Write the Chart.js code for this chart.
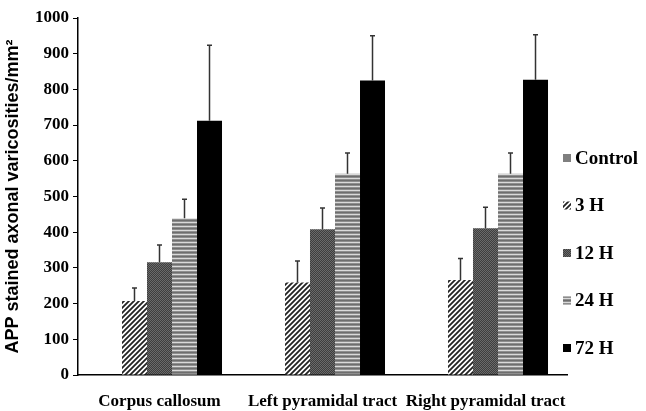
<!DOCTYPE html>
<html>
<head>
<meta charset="utf-8">
<script src="https://cdn.jsdelivr.net/npm/chart.js@4.4.1/dist/chart.umd.min.js"></script>
<style>
  html, body { margin: 0; padding: 0; background: #fff; }
  #wrap { width: 646px; height: 411px; }
</style>
</head>
<body>
<div id="wrap"><canvas id="myChart" width="646" height="411"></canvas></div>
<script>
// data
const categories = ['Corpus callosum', 'Left pyramidal tract', 'Right pyramidal tract']
const seriesNames = ['Control', '3 H', '12 H', '24 H', '72 H']
const control = [0, 0, 0]
const h3 = [207, 259, 266]
const h12 = [316, 408, 411]
const h24 = [439, 564, 564]
const h72 = [712, 825, 827]
const controlErr = [0, 0, 0]
const h3Err = [37, 60, 60]
const h12Err = [48, 60, 59]
const h24Err = [53, 58, 58]
const h72Err = [212, 125, 126]
const yTicks = [0, 100, 200, 300, 400, 500, 600, 700, 800, 900, 1000]

const canvas = document.getElementById('myChart')
const ctx = canvas.getContext('2d')

const serif = '"Liberation Serif", "Times New Roman", serif'

function makePattern(w, h, draw) {
  const c = document.createElement('canvas')
  c.width = w
  c.height = h
  draw(c.getContext('2d'))
  return ctx.createPattern(c, 'repeat')
}

// fills approximating the print patterns
const diag = makePattern(5, 5, g => {
  g.fillStyle = '#fff'
  g.fillRect(0, 0, 5, 5)
  g.strokeStyle = '#222'
  g.lineWidth = 1.8
  g.beginPath()
  g.moveTo(-1, 6); g.lineTo(6, -1)
  g.moveTo(-1, 1); g.lineTo(1, -1)
  g.moveTo(4, 6); g.lineTo(6, 4)
  g.stroke()
})
const dots = makePattern(2, 2, g => {
  g.fillStyle = '#3e3e3e'
  g.fillRect(0, 0, 2, 2)
  g.fillStyle = '#6a6a6a'
  g.fillRect(0, 0, 1, 1)
  g.fillRect(1, 1, 1, 1)
})
const stripes = makePattern(1, 4, g => {
  const rows = ['#6e6e6e', '#8e8e8e', '#dadada', '#8e8e8e']
  rows.forEach((c, i) => { g.fillStyle = c; g.fillRect(0, i, 1, 1) })
})

const values = [control, h3, h12, h24, h72]
const errors = [controlErr, h3Err, h12Err, h24Err, h72Err]
const fills = ['#7f7f7f', diag, dots, stripes, '#000']

const errorBars = {
  id: 'errorBars',
  afterDatasetsDraw(chart) {
    const y = chart.scales.y
    const c = chart.ctx
    c.save()
    c.strokeStyle = '#333'
    c.lineWidth = 1.5
    chart.data.datasets.forEach((ds, i) => {
      const meta = chart.getDatasetMeta(i)
      meta.data.forEach((bar, j) => {
        const e = errors[i][j]
        if (!e) return
        const top = y.getPixelForValue(ds.data[j] + e)
        c.beginPath()
        c.moveTo(bar.x, bar.y)
        c.lineTo(bar.x, top)
        c.moveTo(bar.x - 2.5, top)
        c.lineTo(bar.x + 2.5, top)
        c.stroke()
      })
    })
    c.restore()
  }
}

const sideLegend = {
  id: 'sideLegend',
  afterDraw(chart) {
    const c = chart.ctx
    c.save()
    c.font = 'bold 19px ' + serif
    c.textBaseline = 'middle'
    chart.data.datasets.forEach((ds, i) => {
      const yy = 158 + i * 47.5
      c.fillStyle = ds.backgroundColor
      c.fillRect(563, yy - 4, 8, 8)
      c.fillStyle = '#000'
      c.fillText(ds.label, 575, yy + 1)
    })
    c.restore()
  }
}

const myChart = new Chart(canvas, {
  type: 'bar',
  data: {
    labels: categories,
    datasets: seriesNames.map((name, i) => ({
      label: name,
      data: values[i],
      backgroundColor: fills[i],
      borderWidth: 0,
      categoryPercentage: 0.767,
      barPercentage: 1
    }))
  },
  options: {
    responsive: false,
    animation: false,
    devicePixelRatio: 1,
    layout: { padding: { top: 18, right: 79, left: 0, bottom: 0 } },
    plugins: {
      legend: { display: false },
      tooltip: { enabled: false }
    },
    scales: {
      x: {
        grid: { display: false },
        border: { color: '#000', width: 1.5 },
        ticks: {
          color: '#000',
          padding: 8,
          maxRotation: 0,
          font: { family: serif, size: 17, weight: 'bold' }
        },
        afterFit(scale) { scale.height = 36 }
      },
      y: {
        min: 0,
        max: 1000,
        afterBuildTicks(scale) { scale.ticks = yTicks.map(v => ({ value: v })) },
        grid: { drawOnChartArea: false, tickLength: 5, color: '#000' },
        border: { color: '#000', width: 1.5 },
        ticks: {
          color: '#000',
          padding: 4,
          callback: v => String(v),
          font: { family: serif, size: 17, weight: 'bold' }
        },
        title: {
          display: true,
          text: 'APP stained axonal varicosities/mm²',
          color: '#000',
          padding: { top: 2, bottom: 0 },
          font: { family: '"Liberation Sans", Arial, sans-serif', size: 18, weight: 'bold' }
        },
        afterFit(scale) { scale.width = 78 }
      }
    }
  },
  plugins: [errorBars, sideLegend]
})
</script>
</body>
</html>
